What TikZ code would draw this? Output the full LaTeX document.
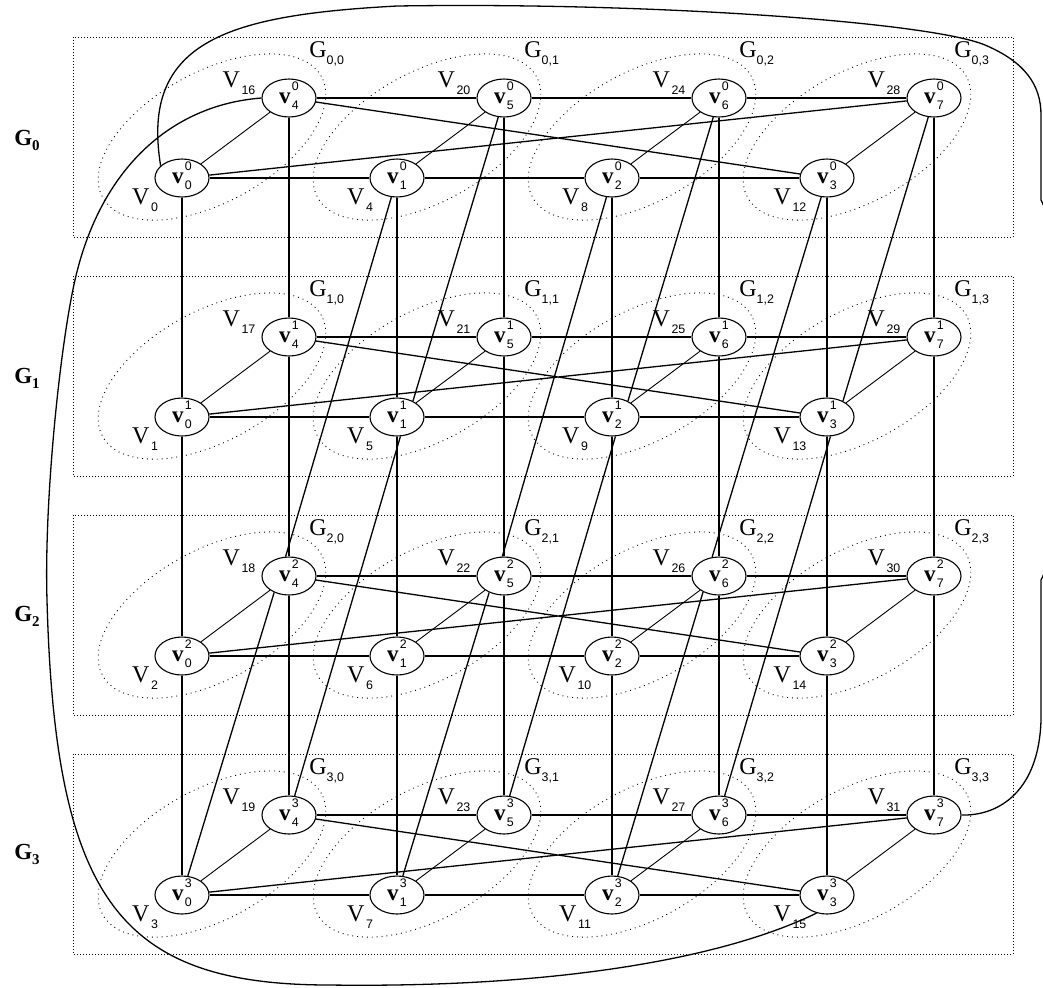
\documentclass[tikz,border=0pt]{standalone}
\usepackage{fontspec}
\setmainfont{Liberation Serif}
\setsansfont{Liberation Sans}
\usetikzlibrary{shapes.geometric}

\newcommand{\subfont}{\fontsize{6.2}{7}\selectfont\sffamily\mdseries}
\newcommand{\vname}[2]{\textbf{v}\kern0.6pt\rlap{\smash{\raisebox{6.3pt}{\subfont #2}}}\smash{\raisebox{-3.4pt}{\subfont #1}}}
\newcommand{\Vlab}[1]{V\kern0.8pt\raisebox{-3.2pt}{\subfont #1}}
\newcommand{\Glab}[2]{G\raisebox{-3.2pt}{\subfont #1,#2}}
\newcommand{\Rlab}[1]{\textbf{G}\raisebox{-2.5pt}{\fontsize{7.5}{8}\selectfont\bfseries #1}}

\begin{document}
\begin{tikzpicture}[
        x=0.5pt, y=-0.5pt,
        % Styles
        vert/.style={
            ellipse,
            draw,
            line width=0.55pt,
            minimum width=27pt,
            minimum height=19pt,
            inner sep=0pt,
            font=\fontsize{11.5}{12}\selectfont
        },
        vlab/.style={inner sep=0pt, font=\fontsize{12}{13}\selectfont},
        glab/.style={inner sep=0pt, anchor=west, font=\fontsize{12}{13}\selectfont},
        rowlab/.style={inner sep=0pt, font=\fontsize{11.5}{13}\selectfont},
        frame/.style={densely dotted, line width=0.5pt},
        grp/.style={dotted, line width=0.45pt},
        link/.style={line width=0.65pt},
        thinlink/.style={line width=0.45pt},
        wrap/.style={line width=0.65pt}
    ]

    \useasboundingbox (0,0) rectangle (1043,987);

    % ==============================
    % 1. ROWS G_0 ... G_3
    % ==============================
    \foreach \r in {0,...,3} {
        \draw[frame] (73,{37+239*\r}) rectangle (1013,{237+239*\r});
        \node[rowlab] (row-\r) at (27,{140+238*\r}) {\Rlab{\r}};

        \foreach \i in {0,...,3} {
            \pgfmathtruncatemacro{\j}{\i+4}
            \pgfmathtruncatemacro{\lo}{4*\i+\r}
            \pgfmathtruncatemacro{\hi}{4*\j+\r}
            \pgfmathsetmacro{\lx}{182+215*\i}
            \pgfmathsetmacro{\ly}{178+239*\r}
            \pgfmathsetmacro{\ux}{289+215*\i}
            \pgfmathsetmacro{\uy}{98+239*\r}

            % vertices v_i^r and v_{i+4}^r
            \node[vert] (v-\r-\i) at (\lx,\ly) {\vname{\i}{\r}};
            \node[vert] (v-\r-\j) at (\ux,\uy) {\vname{\j}{\r}};

            % labels V_k
            \node[vlab] (lab-\r-\i) at (\lx-37,\ly+22) {\Vlab{\lo}};
            \node[vlab] (lab-\r-\j) at (\ux-50,\uy-15) {\Vlab{\hi}};

            % group G_{r,i}
            \draw[grp, rotate around={29:(\lx+30,\ly-41)}]
                (\lx+30,\ly-41) ellipse [x radius=62.5pt, y radius=32.5pt];
            \node[glab] (grp-\r-\i) at (\ux+20,\uy-44) {\Glab{\r}{\i}};
        }
    }

    % ==============================
    % 2. LINKS INSIDE A ROW
    % ==============================
    \foreach \r in {0,...,3} {
        \draw[link] (v-\r-0) -- (v-\r-1)  (v-\r-1) -- (v-\r-2)  (v-\r-2) -- (v-\r-3);
        \draw[link] (v-\r-4) -- (v-\r-5)  (v-\r-5) -- (v-\r-6)  (v-\r-6) -- (v-\r-7);
        \draw[link] (v-\r-0) -- (v-\r-7)  (v-\r-4) -- (v-\r-3);
        \draw[thinlink] (v-\r-0) -- (v-\r-4)  (v-\r-1) -- (v-\r-5)
                        (v-\r-2) -- (v-\r-6)  (v-\r-3) -- (v-\r-7);
    }

    % ==============================
    % 3. LINKS BETWEEN ROWS
    % ==============================
    \foreach \r/\s in {0/1, 1/2, 2/3} {
        \foreach \i in {0,...,7} {
            \draw[link] (v-\r-\i) -- (v-\s-\i);
        }
    }

    \draw[link] (v-0-5) -- (v-1-1.45)  (v-0-6) -- (v-1-2.45)  (v-0-7) -- (v-1-3.45);
    \draw[link] (v-0-1) -- (v-2-4.100)  (v-0-2) -- (v-2-5.95)  (v-0-3) -- (v-2-6.110);
    \draw[link] (v-1-1.280) -- (v-3-4)  (v-1-2.280) -- (v-3-5)  (v-1-3.280) -- (v-3-6);
    \draw[link] (v-2-4.228) -- (v-3-0)  (v-2-5.228) -- (v-3-1)  (v-2-6.225) -- (v-3-2);

    % ==============================
    % 4. WRAP-AROUND LINKS
    % ==============================
    % (the right-hand run leaves the page between the two visible ends)
    \draw[wrap] (v-0-0.150) .. controls (140,40) and (230,15) .. (397,6)
        .. controls (650,2) and (930,22) .. (985,45)
        .. controls (1025,62) and (1041,85) .. (1041,115)
        -- (1041,200) .. controls (1100,320) and (1100,460) .. (1041,580)
        -- (1041,720) .. controls (1039,790) and (1000,816) .. (v-3-7.east);

    \draw[wrap] (v-0-4.west) .. controls (170,105) and (100,170) .. (75,280)
        .. controls (60,346) and (44,500) .. (47,600)
        .. controls (55,900) and (120,985) .. (330,985)
        .. controls (550,988) and (720,960) .. (v-3-3.240);

\end{tikzpicture}
\end{document}
